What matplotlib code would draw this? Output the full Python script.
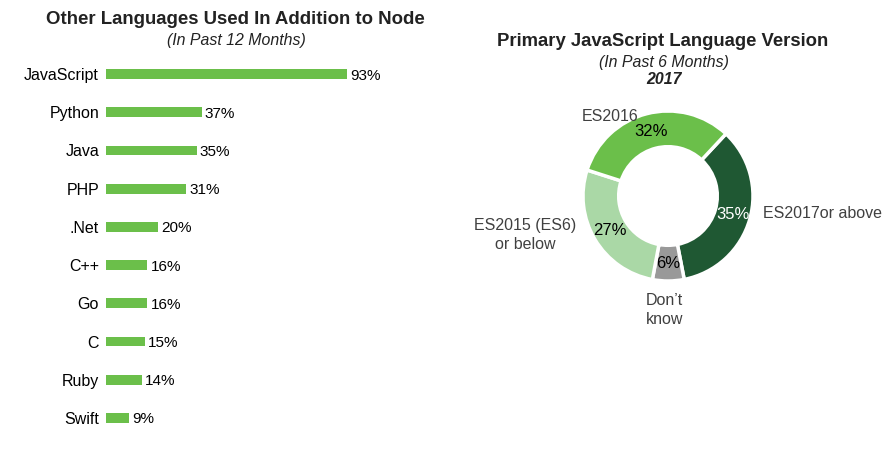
import matplotlib.pyplot as plt

plt.rcParams['font.family'] = ['Liberation Sans', 'DejaVu Sans']

# left chart data
languages = ['JavaScript', 'Python', 'Java', 'PHP', '.Net', 'C++', 'Go', 'C', 'Ruby', 'Swift']
usage = [93, 37, 35, 31, 20, 16, 16, 15, 14, 9]

# donut data (clockwise from upper right)
versions = ['ES2017or above', 'Don\u2019t\nknow', 'ES2015 (ES6)\nor below', 'ES2016']
shares = [35, 6, 27, 32]
colors = ['#1f5833', '#999999', '#aad8a6', '#6bbf4a']
pct_colors = ['white', 'black', 'black', 'black']

W, H = 888, 451
fig = plt.figure(figsize=(W / 100, H / 100), dpi=100)

# ---- bar chart ----
ax = fig.add_axes([106 / W, 1 - 437 / H, 259 / W, 382 / H])
ypos = list(range(len(languages)))
ax.barh(ypos, usage, height=0.26, color='#6bbf4a')
ax.set_xlim(0, 100)
ax.set_ylim(9.5, -0.5)
ax.set_yticks(ypos)
ax.set_yticklabels(languages, fontsize=11.5)
ax.tick_params(axis='y', length=0, pad=5)
ax.set_xticks([])
for s in ax.spines.values():
    s.set_visible(False)
for y, v in zip(ypos, usage):
    ax.text(v + 1.2, y + 0.04, f'{v}%', va='center', ha='left', fontsize=11)

fig.text(235 / W, 1 - 20 / H, 'Other Languages Used In Addition to Node',
         ha='center', va='center', fontsize=13.4, fontweight='bold', color='#222222')
fig.text(236 / W, 1 - 40 / H, '(In Past 12 Months)',
         ha='center', va='center', fontsize=11.4, style='italic', color='#222222')

# ---- donut ----
R = 85
cx, cy = 668, 196
ax2 = fig.add_axes([(cx - R) / W, 1 - (cy + R) / H, 2 * R / W, 2 * R / H])
wedges, texts, autotexts = ax2.pie(
    shares, colors=colors, startangle=47, counterclock=False, radius=1,
    wedgeprops=dict(width=0.42, edgecolor='white', linewidth=2.5),
    autopct='%d%%', pctdistance=0.79, textprops=dict(fontsize=12))
for t, c in zip(autotexts, pct_colors):
    t.set_color(c)
ax2.set_xlim(-1, 1)
ax2.set_ylim(-1, 1)
ax2.set_aspect('equal')
ax2.axis('off')

lab_col = '#404040'
ax2.text(1.12, -0.2, versions[0], ha='left', va='center', fontsize=11.5, color=lab_col)
ax2.text(-0.04, -1.34, versions[1], ha='center', va='center', fontsize=11.5,
         color=lab_col, linespacing=1.3)
ax2.text(-1.68, -0.46, versions[2], ha='center', va='center', fontsize=11.5,
         color=lab_col, linespacing=1.3)
ax2.text(-0.68, 0.94, versions[3], ha='center', va='center', fontsize=11.5, color=lab_col)

fig.text(663 / W, 1 - 42 / H, 'Primary JavaScript Language Version',
         ha='center', va='center', fontsize=13.3, fontweight='bold', color='#222222')
fig.text(664 / W, 1 - 62 / H, '(In Past 6 Months)',
         ha='center', va='center', fontsize=11.4, style='italic', color='#222222')
fig.text(664 / W, 1 - 80 / H, '2017',
         ha='center', va='center', fontsize=11.4, style='italic', fontweight='bold',
         color='#222222')

fig.savefig('out.png', dpi=100, facecolor='white')
